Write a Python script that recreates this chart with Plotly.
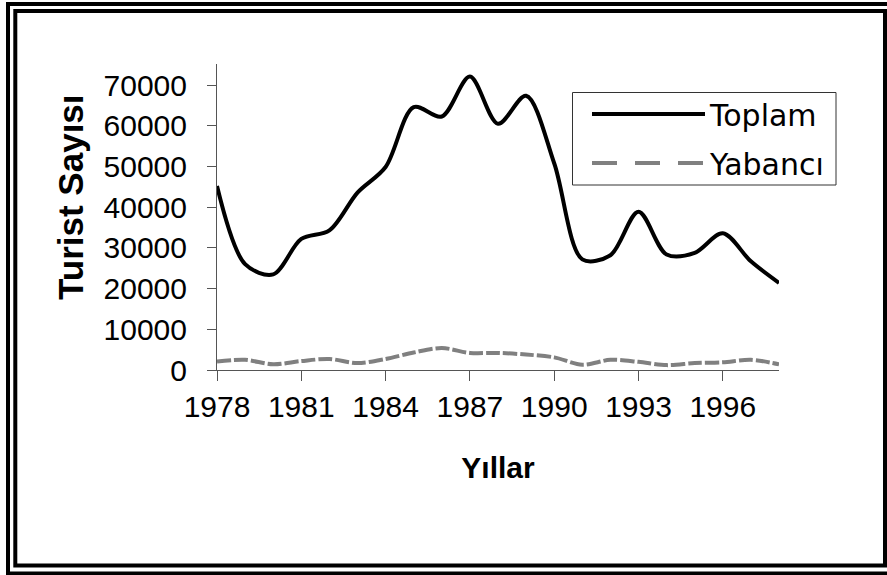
import plotly.graph_objects as go

years = list(range(1978, 1999))
toplam = [45200, 26000, 23500, 32200, 34300, 43600, 49900, 64600, 62300, 72100,
          60500, 67400, 50800, 27200, 28200, 38900, 28400, 28800, 33600, 26700, 21400]
yabanci = [2100, 2500, 1400, 2200, 2700, 1700, 2700, 4300, 5400, 4200,
           4200, 3800, 3100, 1300, 2500, 2000, 1200, 1700, 1900, 2500, 1400]
x_ticks = years[::3]
y_ticks = [0, 10000, 20000, 30000, 40000, 50000, 60000, 70000]

W, H = 887, 575
L, R, T, B = 217, 108, 64, 205
PW, PH = W - L - R, H - T - B

def px(x):
    return (x - L) / PW

def py(y):
    return (H - B - y) / PH

fig = go.Figure()
fig.add_trace(go.Scatter(x=years, y=toplam, name="Toplam", mode="lines",
                         line=dict(color="black", width=4, shape="spline", smoothing=0.9)))
fig.add_trace(go.Scatter(x=years, y=yabanci, name="Yabancı", mode="lines", showlegend=False,
                         legendgroup="yab",
                         line=dict(color="#808080", width=4, shape="spline", smoothing=0.9,
                                   dash="14px,3px")))
# legend entry for the dashed series (legend sample uses a longer dash, as in the original)
fig.add_trace(go.Scatter(x=[None], y=[None], name="Yabancı", mode="lines", legendgroup="yab",
                         line=dict(color="#808080", width=4, dash="25px,18px")))

axis_font = dict(family="Liberation Sans, Arial, sans-serif", size=30, color="black")
fig.update_xaxes(range=[1978, 1998], tickmode="array", tickvals=x_ticks,
                 ticktext=[str(v) for v in x_ticks], showgrid=False, zeroline=False,
                 showline=True, linecolor="#555555", linewidth=1,
                 ticks="outside", ticklen=10, tickcolor="#555555", tickfont=axis_font,
                 title=dict(text="<b>Yıllar</b>", font=dict(family="Liberation Sans, Arial, sans-serif",
                                                          size=30, color="black"), standoff=34))
fig.update_yaxes(range=[0, 75200], tickmode="array", tickvals=y_ticks,
                 ticktext=[str(v) for v in y_ticks], showgrid=False, zeroline=False,
                 showline=True, linecolor="#555555", linewidth=1,
                 ticks="outside", ticklen=9, tickcolor="#555555", tickfont=axis_font,
                 ticklabelstandoff=14)

shapes = [
    dict(type="rect", xref="paper", yref="paper", x0=px(8), x1=px(893), y0=py(4), y1=py(573.5),
         line=dict(color="black", width=4), fillcolor="rgba(0,0,0,0)", layer="above"),
    dict(type="rect", xref="paper", yref="paper", x0=px(15.3), x1=px(885), y0=py(11), y1=py(565.5),
         line=dict(color="black", width=4), fillcolor="rgba(0,0,0,0)", layer="above"),
    # legend frame
    dict(type="rect", xref="paper", yref="paper", x0=px(572.5), x1=px(836), y0=py(92.5), y1=py(185),
         line=dict(color="#333333", width=1), fillcolor="white", layer="above"),
]

annotations = [
    dict(text="<b>Turist Sayısı</b>", xref="paper", yref="paper", x=px(70), y=py(197),
         showarrow=False, textangle=-90, xanchor="center", yanchor="middle",
         font=dict(family="Liberation Sans, Arial, sans-serif", size=35, color="black")),
]

fig.update_layout(
    width=W, height=H, margin=dict(l=L, r=R, t=T, b=B, autoexpand=False),
    paper_bgcolor="white", plot_bgcolor="white",
    shapes=shapes, annotations=annotations,
    showlegend=True,
    legend=dict(x=px(587), y=py(88), xanchor="left", yanchor="top",
                bgcolor="rgba(0,0,0,0)", borderwidth=0,
                font=dict(family="DejaVu Sans, Verdana, sans-serif", size=30, color="black"),
                itemwidth=113, traceorder="grouped", tracegroupgap=7),
)

fig.write_html("out.html", config={"displayModeBar": False},
               post_script="document.body.style.margin='0';document.body.style.overflow='hidden';")
